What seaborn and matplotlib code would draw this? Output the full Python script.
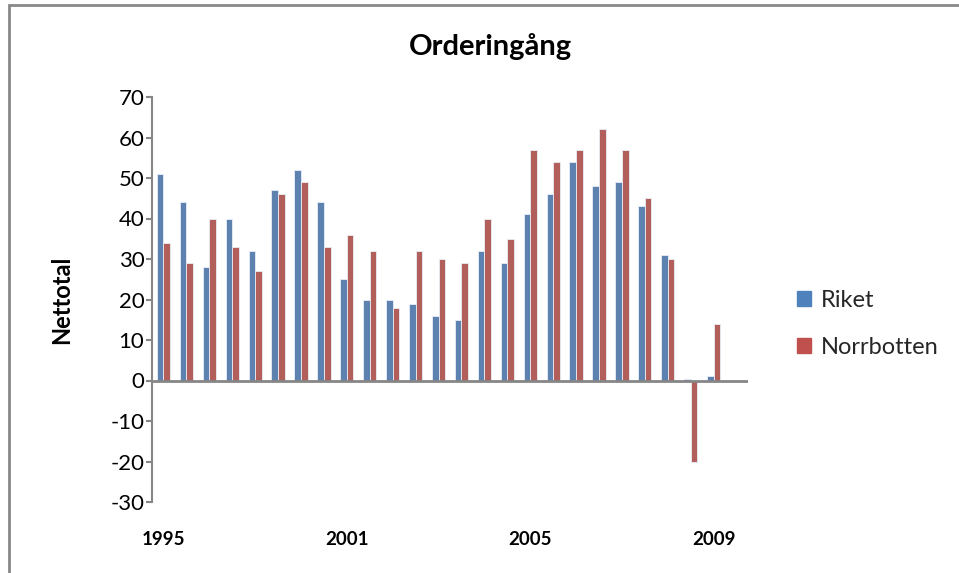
import numpy as np
import pandas as pd
import matplotlib
matplotlib.use("Agg")
import matplotlib.pyplot as plt
from matplotlib.patches import Rectangle
import seaborn as sns

# 26 periods, the last one has no data yet
periods = list(range(26))
tick_labels = ["1995", "", "", "", "", "", "", "",
               "2001", "", "", "", "", "", "", "",
               "2005", "", "", "", "", "", "", "",
               "2009", ""]
riket = [51, 44, 28, 40, 32, 47, 52, 44, 25, 20, 20, 19, 16,
         15, 32, 29, 41, 46, 54, 48, 49, 43, 31, 0.4, 1, np.nan]
norrbotten = [34, 29, 40, 33, 27, 46, 49, 33, 36, 32, 18, 32, 30,
              29, 40, 35, 57, 54, 57, 62, 57, 45, 30, -20, 14, np.nan]
series = ["Riket", "Norrbotten"]
colors = ["#4F81BD", "#C0504D"]

df = pd.DataFrame({
    "period": periods * 2,
    "serie": ["Riket"] * len(periods) + ["Norrbotten"] * len(periods),
    "value": riket + norrbotten,
})

sns.set_style("white")
plt.rcParams["font.family"] = ["Lato", "DejaVu Sans"]
plt.rcParams["axes.unicode_minus"] = False

fig = plt.figure(figsize=(9.59, 5.73), dpi=100)
ax = fig.add_axes([152 / 959, 1 - 502 / 573, 596 / 959, 405 / 573])

sns.barplot(data=df, x="period", y="value", hue="serie", order=periods,
            hue_order=series, palette=colors, width=0.58, ax=ax,
            edgecolor="#e8eef7", linewidth=0.6, legend=False, errorbar=None)

ax.set_ylim(-30, 70)
ax.set_xlim(-0.5, len(periods) - 0.5)
ax.set_yticks(range(-30, 71, 10))
ax.set_xticks(range(len(periods)))
ax.set_xticklabels(tick_labels, fontweight="bold", fontsize=13.5, color="black")
ax.tick_params(axis="x", length=0, pad=21)
ax.tick_params(axis="y", length=4, width=1.5, color="#868686",
               direction="out", labelsize=16, pad=1.5, left=True,
               labelcolor="black")
for s in ["top", "right", "bottom"]:
    ax.spines[s].set_visible(False)
ax.spines["left"].set_color("#868686")
ax.spines["left"].set_linewidth(1.5)
ax.axhline(0, color="#868686", linewidth=2, zorder=5)

ax.set_xlabel("")
ax.set_ylabel("Nettotal", fontweight="bold", fontsize=17, color="black")
ax.yaxis.set_label_coords(-0.133, 0.5)
fig.text(0.511, 1 - 47 / 573, "Orderingång", ha="center", va="center",
         fontsize=21, fontweight="bold", color="black")

handles = [Rectangle((0, 0), 1, 1, color=c) for c in colors]
fig.legend(handles, series, loc="center left",
           bbox_to_anchor=(797 / 959, 1 - 324 / 573), frameon=False,
           fontsize=17, handlelength=0.6, handleheight=0.6,
           handletextpad=0.4, labelspacing=1.1,
           borderaxespad=0, borderpad=0)

# outer chart frame
fig.patches.append(Rectangle((9 / 959, -0.1), 1.2, 1.1 - 5 / 573,
                             transform=fig.transFigure, fill=False,
                             edgecolor="#888888", linewidth=2))

fig.savefig("out.png", dpi=100)
